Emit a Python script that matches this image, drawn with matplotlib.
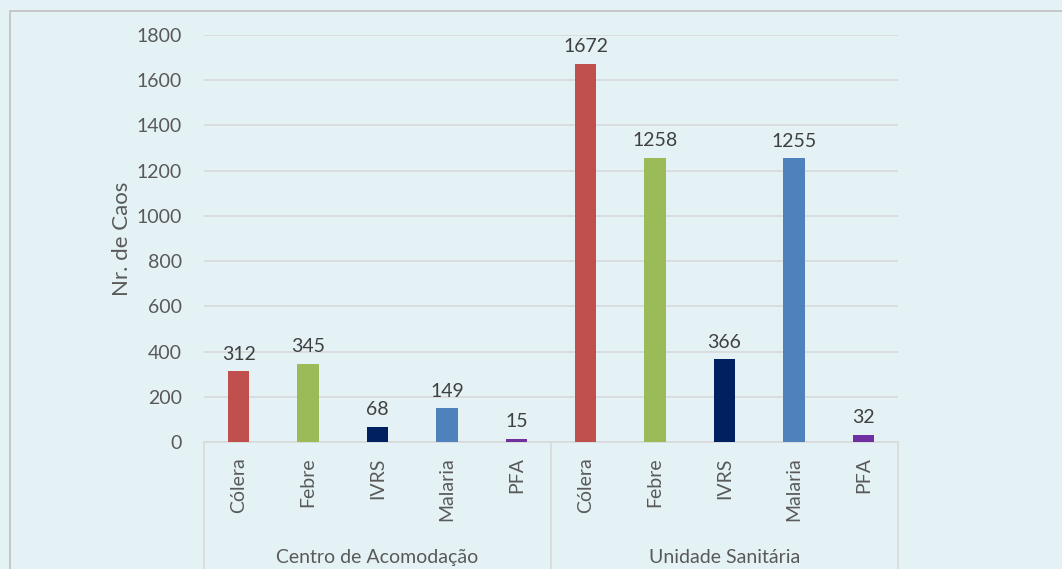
import matplotlib.pyplot as plt
import numpy as np
from matplotlib.patches import Rectangle

plt.rcParams['font.family'] = ['Lato', 'DejaVu Sans']

groups = ["Centro de Acomodação", "Unidade Sanitária"]
diseases = ["Cólera", "Febre", "IVRS", "Malaria", "PFA"]
centro = [312, 345, 68, 149, 15]
unidade = [1672, 1258, 366, 1255, 32]
colors = ["#c0504d", "#9bbb59", "#002060", "#4f81bd", "#7030a0"]

bg = "#e4f2f6"
fig = plt.figure(figsize=(10.62, 5.69), dpi=100)
fig.patch.set_facecolor(bg)
# outer chart border (cut at right/bottom in the reference)
fig.add_artist(Rectangle((10 / 1062, -0.1), 1.2, 1 - 11 / 569 + 0.1,
                         transform=fig.transFigure, fill=False,
                         edgecolor="#bfbfbf", lw=1.2))

ax = fig.add_axes([204 / 1062, 1 - 442 / 569, 694 / 1062, 407 / 569])
ax.set_facecolor(bg)

values = centro + unidade
labels = diseases + diseases
bar_colors = colors + colors
x = np.arange(len(values))
ax.bar(x, values, width=0.31, color=bar_colors, zorder=3)
for xi, v in zip(x, values):
    ax.text(xi, v + 38, str(v), ha="center", va="bottom",
            fontsize=14, color="#404040")

ax.set_xlim(-0.5, len(values) - 0.5)
ax.set_ylim(0, 1800)
ax.set_yticks(np.arange(0, 1801, 200))
ax.yaxis.grid(True, color="#d9d9d9", lw=1.2, zorder=0)
ax.tick_params(axis="y", length=0, pad=16, labelsize=14, labelcolor="#595959")
ax.set_xticks([])
for s in ["top", "right", "left"]:
    ax.spines[s].set_visible(False)
ax.spines["bottom"].set_color("#d9d9d9")
ax.spines["bottom"].set_linewidth(1.2)
ax.set_ylabel("Nr. de Caos", fontsize=16, color="#595959", labelpad=3)

# category labels and group separators below the axis
trans = ax.get_xaxis_transform()
for xi, lab in zip(x, labels):
    ax.text(xi, -0.038, lab, transform=trans, rotation=90, ha="center",
            va="top", fontsize=14, color="#595959", clip_on=False)
for sep in [-0.5, 4.5, 9.5]:
    ax.plot([sep, sep], [0, -0.4], transform=trans, color="#d9d9d9",
            lw=1.2, clip_on=False)
for gi, g in enumerate(groups):
    ax.text(gi * 5 + 2, -0.262, g, transform=trans, ha="center", va="top",
            fontsize=14, color="#595959", clip_on=False)

fig.savefig("out.png", dpi=100, facecolor=bg)
